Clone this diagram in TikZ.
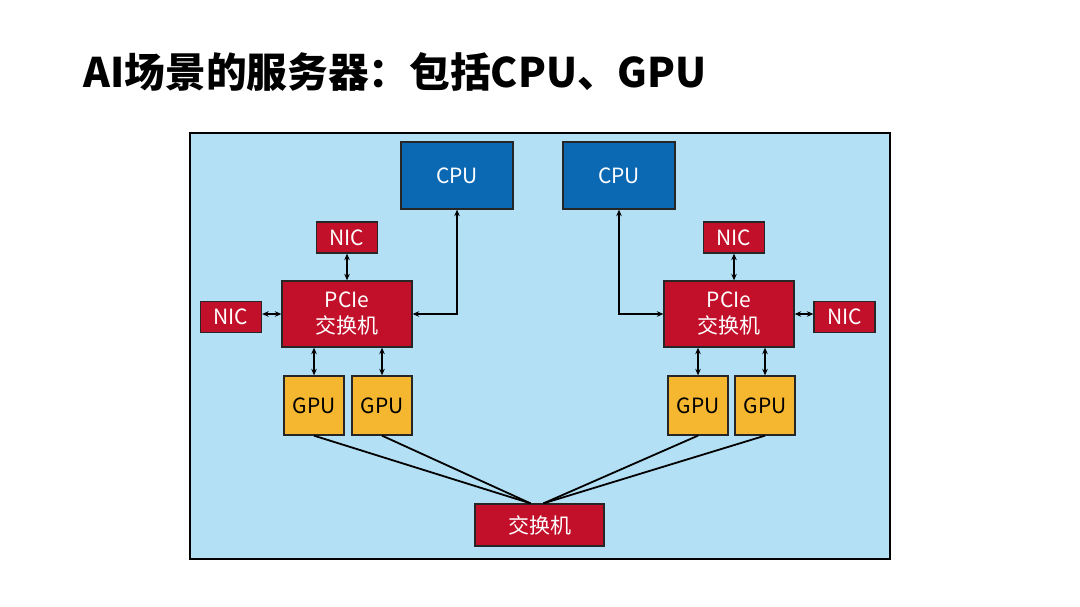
\documentclass[tikz,border=0pt]{standalone}
\usepackage{fontspec}
\newfontfamily\cjk{Noto Sans CJK SC}
\usetikzlibrary{arrows.meta,calc}
\definecolor{boardColor}{HTML}{B4E0F5}
\definecolor{cpuColor}{HTML}{0B68B3}
\definecolor{chipRed}{HTML}{C2102A}
\definecolor{gpuColor}{HTML}{F5B630}
\tikzset{
  box/.style={draw=black!85,line width=1.3pt,inner sep=0pt,align=center,font=\cjk\fontsize{21}{24}\selectfont},
  cpubox/.style={box,fill=cpuColor,text=white,minimum width=112pt,minimum height=67pt},
  nicbox/.style={box,fill=chipRed,text=white,minimum width=61pt,minimum height=31pt},
  pciebox/.style={box,fill=chipRed,text=white,minimum width=130pt,minimum height=66pt},
  gpubox/.style={box,fill=gpuColor,text=black,minimum width=60pt,minimum height=59pt},
  link/.style={{Stealth[length=6.5pt,width=5.5pt]}-{Stealth[length=6.5pt,width=5.5pt]},line width=1.3pt},
  wire/.style={line width=1.8pt}
}

\begin{document}
\begin{tikzpicture}[x=1pt,y=-1pt]
\useasboundingbox[fill=white] (0,0) rectangle (1080,607);
\node[anchor=base west,font=\cjk\bfseries\fontsize{40.7}{44}\selectfont] (title) at (80,88) {AI场景的服务器：包括CPU、GPU};
\draw[fill=boardColor,line width=1.3pt] (190,133) rectangle (890,559);% board
% left half
\node[cpubox] (cpuL) at (457,175.5) {CPU};
\node[nicbox] (nicLT) at (347,237.5) {NIC};
\node[pciebox] (pcieL) at (347,314) {PCIe\\[2pt]交换机};
\node[nicbox] (nicLL) at (231,317) {NIC};
\node[gpubox] (gpuL1) at (314,405.5) {GPU};
\node[gpubox] (gpuL2) at (382,405.5) {GPU};
% right half
\node[cpubox] (cpuR) at (619,175.5) {CPU};
\node[nicbox] (nicRT) at (734,237.5) {NIC};
\node[pciebox] (pcieR) at (729,314) {PCIe\\[2pt]交换机};
\node[nicbox] (nicRR) at (844.5,317) {NIC};
\node[gpubox] (gpuR1) at (698,405.5) {GPU};
\node[gpubox] (gpuR2) at (765,405.5) {GPU};
% switch
\node[box,fill=chipRed,text=white,minimum width=129pt,minimum height=42pt] (sw) at (539.5,525) {交换机};
\coordinate (swL) at ($(sw.north)+(-9,0)$);
\coordinate (swR) at ($(sw.north)+(4,0)$);
% links
\draw[link] (nicLT.south) -- (pcieL.north -| nicLT.south);
\draw[link] (nicLL.east |- pcieL.west) -- (pcieL.west);
\draw[link] (cpuL.south) -- (cpuL.south |- pcieL.east) -- (pcieL.east);
\draw[link] (pcieL.south -| gpuL1.north) -- (gpuL1.north);
\draw[link] (pcieL.south -| gpuL2.north) -- (gpuL2.north);
\draw[link] (nicRT.south) -- (pcieR.north -| nicRT.south);
\draw[link] (nicRR.west |- pcieR.east) -- (pcieR.east);
\draw[link] (cpuR.south) -- (cpuR.south |- pcieR.west) -- (pcieR.west);
\draw[link] (pcieR.south -| gpuR1.north) -- (gpuR1.north);
\draw[link] (pcieR.south -| gpuR2.north) -- (gpuR2.north);
\draw[wire] (gpuL1.south) -- (swL);
\draw[wire] (gpuL2.south) -- (swL);
\draw[wire] (gpuR1.south) -- (swR);
\draw[wire] (gpuR2.south) -- (swR);
\end{tikzpicture}
\end{document}
